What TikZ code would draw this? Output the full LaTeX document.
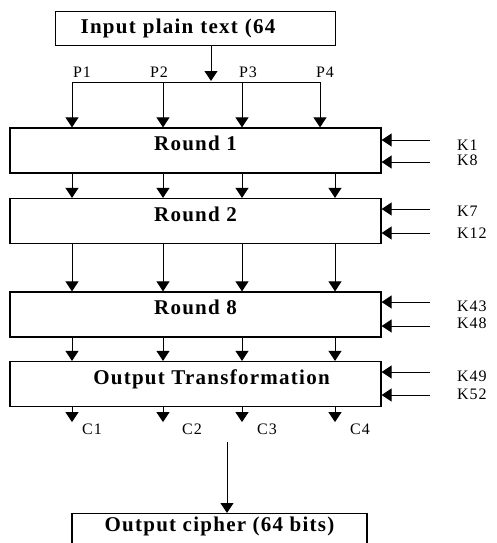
\documentclass[tikz,border=0pt]{standalone}
\usepackage{fontspec}
\setmainfont{Liberation Serif}[LetterSpace=6]
\usetikzlibrary{arrows.meta}
\begin{document}
\begin{tikzpicture}[x=1pt,y=-1pt,
    arr/.style={-{Triangle[width=13pt,length=10pt]},line width=1pt},
    box/.style={draw,line width=1.2pt,font=\fontsize{21}{24}\selectfont\bfseries},
    rnd/.style={box,minimum width=371pt,minimum height=45pt,inner sep=0pt,text height=10pt,text depth=10pt},
    lbl/.style={font=\fontsize{16}{18}\selectfont,inner sep=0pt}]
  \useasboundingbox (0,0) rectangle (496,543);
  % boxes
  \node[box,text width=230pt,inner xsep=25pt,inner ysep=0pt,minimum height=34pt,align=left,anchor=north west] (input) at (55,11) {Input plain text (64};
  \node[rnd] (r1) at (195.5,150.5) {Round 1};
  \node[rnd] (r2) at (195.5,221) {Round 2};
  \node[rnd] (r8) at (195.5,314.5) {Round 8};
  \node[rnd] (ot) at (195.5,384) {\hspace*{32pt}Output Transformation};
  \node[box,minimum width=295pt,minimum height=36pt,inner sep=0pt,text height=10pt,text depth=10pt,anchor=north] (out) at (219.5,513) {Output cipher (64 bits)};
  % input bus
  \coordinate (bus) at (211,81);
  \draw[arr] (input.south -| bus) -- (bus);
  \foreach \x [count=\i] in {72,163,242,320} \coordinate (p\i) at (\x,82);
  \draw[line width=1pt] (p1) -- (p4);
  \foreach \i in {1,...,4} \draw[arr] (p\i) -- (r1.north -| p\i);
  \foreach \x/\t in {82/P1,159/P2,248/P3,325/P4} \node[lbl] (\t) at (\x,72.5) {\t};
  % between rounds
  \foreach \x [count=\i] in {72,163,242,335} \coordinate (c\i) at (\x,0);
  \foreach \i in {1,...,4} {
    \draw[arr] (r1.south -| c\i) -- (r2.north -| c\i);
    \draw[arr] (r2.south -| c\i) -- (r8.north -| c\i);
    \draw[arr] (r8.south -| c\i) -- (ot.north -| c\i);
    \draw[arr] (ot.south -| c\i) -- ++(0,15);
  }
  \foreach \x/\t in {82/C1,182/C2,257/C3,350/C4} \node[lbl,anchor=west] (\t) at (\x,429) {\t};
  \coordinate (join) at (227,442);
  \draw[arr] (join) -- (out.north -| join);
  % subkeys
  \foreach \b/\ya/\yb/\ka/\kb/\la/\lb in {r1/140/162/K1/K8/145/160.5, r2/209/233/K7/K12/211/233,
      r8/302/326/K43/K48/306/323, ot/372/395/K49/K52/376/394} {
    \node[lbl,anchor=west] (\ka) at (457,\la) {\ka};
    \node[lbl,anchor=west] (\kb) at (457,\lb) {\kb};
    \coordinate (s\ka) at (430,\ya);
    \coordinate (s\kb) at (430,\yb);
    \draw[arr] (s\ka) -- (\b.east |- s\ka);
    \draw[arr] (s\kb) -- (\b.east |- s\kb);
  }
\end{tikzpicture}
\end{document}
